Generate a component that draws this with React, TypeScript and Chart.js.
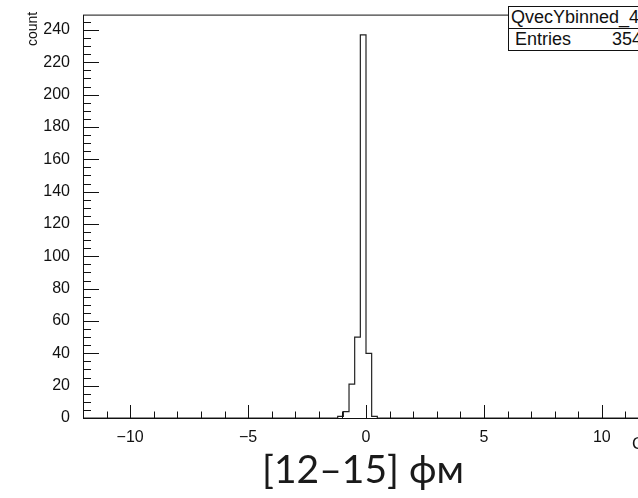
import React, { useEffect, useRef } from "react";
import { Chart, registerables } from "chart.js";

Chart.register(...registerables);

// ---- data ----
const xMin = -12;
const xMax = 12;
const yMax = 249.5;
const binWidth = 0.24;
const binLowEdges = [-1.2, -0.96, -0.72, -0.48, -0.24, 0, 0.24];
const binCounts = [1, 4, 21, 50, 237, 40, 1];
const xTickValues = [-10, -5, 0, 5, 10];
const yTickValues = [0, 20, 40, 60, 80, 100, 120, 140, 160, 180, 200, 220, 240];
const histName = "QvecYbinned_4";
const entries = 354;
const xTitle = "Qy";
const yTitle = "count";
const caption = "[12–15] фм";

const FONT = "'Liberation Sans', Arial, Helvetica, sans-serif";
const INK = "#111";

const fmt = (v: number) => (v < 0 ? "\u2212" + Math.abs(v) : String(v));

const rootFrame = {
  id: "rootFrame",
  afterDraw(chart: any) {
    const { ctx, chartArea } = chart;
    const { left, right, top, bottom } = chartArea;
    const x = chart.scales.x;
    const y = chart.scales.y;
    ctx.save();
    ctx.strokeStyle = INK;
    ctx.lineWidth = 1;
    ctx.strokeRect(left + 0.5, top + 0.5, right - left, bottom - top);
    ctx.beginPath();
    for (let v = Math.ceil(xMin); v <= xMax; v += 1) {
      const px = Math.round(x.getPixelForValue(v)) + 0.5;
      const len = v % 5 === 0 ? 13 : 6.5;
      ctx.moveTo(px, bottom);
      ctx.lineTo(px, bottom - len);
    }
    for (let v = 0; v <= yMax; v += 5) {
      const py = Math.round(y.getPixelForValue(v)) + 0.5;
      const len = v % 20 === 0 ? 16 : 8;
      ctx.moveTo(left, py);
      ctx.lineTo(left + len, py);
    }
    ctx.stroke();
    ctx.restore();
  },
};

export default function App() {
  const ref = useRef<HTMLCanvasElement | null>(null);

  useEffect(() => {
    if (!ref.current) return;
    const last = binLowEdges.length - 1;
    const points = [
      { x: xMin, y: 0 },
      ...binLowEdges.map((e, i) => ({ x: e, y: binCounts[i] })),
      { x: binLowEdges[last] + binWidth, y: 0 },
      { x: xMax, y: 0 },
    ];
    const tickFont = { family: FONT, size: 16 };
    const chart = new Chart(ref.current, {
      type: "line",
      data: {
        datasets: [
          {
            label: histName,
            data: points,
            stepped: "before",
            borderColor: "#222",
            borderWidth: 1.2,
            pointRadius: 0,
            fill: false,
            tension: 0,
          },
        ],
      },
      options: {
        responsive: false,
        animation: false,
        events: [],
        layout: { padding: { left: 0, top: 6, right: 31, bottom: 0 } },
        plugins: { legend: { display: false }, tooltip: { enabled: false } },
        scales: {
          x: {
            type: "linear",
            min: xMin,
            max: xMax,
            grid: { display: false },
            border: { display: false },
            ticks: {
              font: tickFont,
              color: INK,
              padding: 2,
              autoSkip: false,
              maxRotation: 0,
              callback: (v: any) => fmt(Number(v)),
            },
            afterBuildTicks: (s: any) => {
              s.ticks = xTickValues.map((v) => ({ value: v }));
            },
            afterFit: (s: any) => {
              s.height = 42;
            },
          },
          y: {
            type: "linear",
            min: 0,
            max: yMax,
            grid: { display: false },
            border: { display: false },
            ticks: {
              font: tickFont,
              color: INK,
              padding: 5,
              autoSkip: false,
              callback: (v: any) => fmt(Number(v)),
            },
            afterBuildTicks: (s: any) => {
              s.ticks = yTickValues.map((v) => ({ value: v }));
            },
            afterFit: (s: any) => {
              s.width = 83;
            },
          },
        },
      } as any,
      plugins: [rootFrame],
    });
    return () => chart.destroy();
  }, []);

  return (
    <div
      style={{
        position: "fixed",
        left: 0,
        top: 0,
        width: 638,
        height: 498,
        overflow: "hidden",
        background: "#fff",
        fontFamily: FONT,
        color: INK,
      }}
    >
      <canvas
        ref={ref}
        width={680}
        height={460}
        style={{ position: "absolute", left: 0, top: 0, width: 680, height: 460 }}
      />
      <div
        style={{
          position: "absolute",
          left: 25,
          top: 46,
          fontSize: 14,
          lineHeight: "14px",
          whiteSpace: "nowrap",
          transform: "rotate(-90deg)",
          transformOrigin: "left top",
        }}
      >
        {yTitle}
      </div>
      <div
        style={{
          position: "absolute",
          left: 632,
          top: 435,
          fontSize: 17,
          lineHeight: "17px",
          whiteSpace: "nowrap",
        }}
      >
        {xTitle}
      </div>
      <div
        style={{
          position: "absolute",
          left: 508,
          top: 6,
          width: 142,
          border: "1px solid #111",
          background: "#fff",
          fontSize: 18,
          lineHeight: "21px",
          whiteSpace: "nowrap",
        }}
      >
        <div style={{ paddingLeft: 2, borderBottom: "1px solid #111" }}>{histName}</div>
        <div style={{ display: "flex", justifyContent: "space-between", paddingLeft: 6, paddingRight: 9 }}>
          <span>Entries</span>
          <span>{entries}</span>
        </div>
      </div>
      <div
        style={{
          position: "absolute",
          left: 262,
          top: 449,
          fontFamily: "Lato, 'Open Sans', sans-serif",
          fontWeight: 400,
          fontSize: 39,
          lineHeight: "39px",
          whiteSpace: "nowrap",
          color: "#1a1a1a",
        }}
      >
        {caption}
      </div>
    </div>
  );
}
